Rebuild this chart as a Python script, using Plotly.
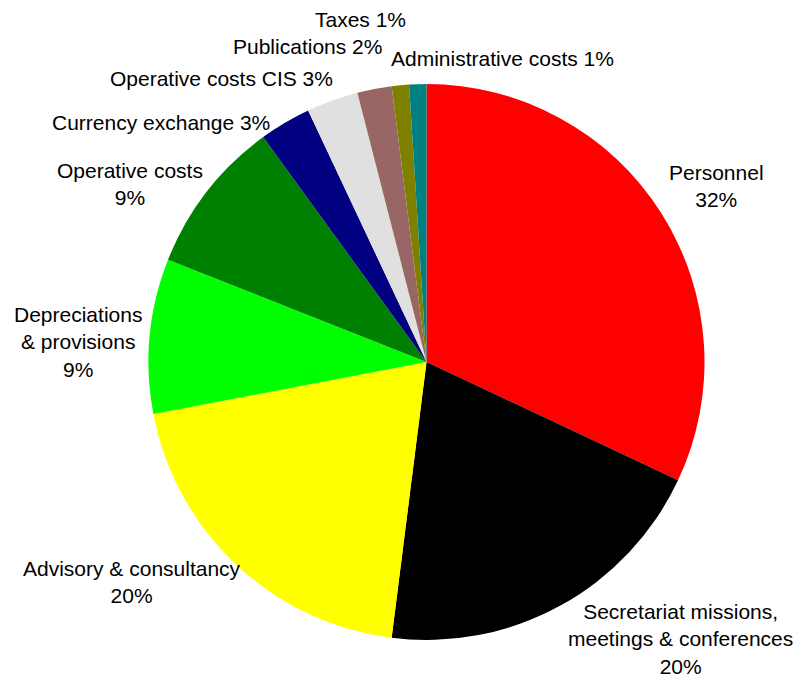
import plotly.graph_objects as go

# Budget breakdown, clockwise from 12 o'clock
categories = [
    "Personnel",
    "Secretariat missions,<br>meetings & conferences",
    "Advisory & consultancy",
    "Depreciations<br>& provisions",
    "Operative costs",
    "Currency exchange",
    "Operative costs CIS",
    "Publications",
    "Taxes",
    "Administrative costs",
]
shares = [32, 20, 20, 9, 9, 3, 3, 2, 1, 1]
colors = ["#FF0000", "#000000", "#FFFF00", "#00FF00", "#008000",
          "#000080", "#E0E0E0", "#996666", "#808000", "#008080"]

# Label layout: (x px, y px, percentage on its own line?)
W, H = 798, 680
label_pos = [
    (716, 186, True),
    (680, 639, True),
    (132, 582, True),
    (78, 342, True),
    (130, 184, True),
    (161, 122, False),
    (221, 78, False),
    (307, 47, False),
    (360, 19, False),
    (502, 58, False),
]

fig = go.Figure(go.Pie(
    labels=categories,
    values=shares,
    marker=dict(colors=colors, line=dict(width=0)),
    sort=False,
    direction="clockwise",
    rotation=0,
    textinfo="none",
    hoverinfo="label+percent",
    domain=dict(x=[148 / W, 705 / W], y=[40 / H, 596 / H]),
    showlegend=False,
))

total = sum(shares)
annotations = []
for name, v, (px, py, stacked) in zip(categories, shares, label_pos):
    pct = f"{round(100 * v / total)}%"
    text = f"{name}<br>{pct}" if stacked else f"{name} {pct}"
    annotations.append(dict(
        x=px / W, y=1 - py / H, xref="paper", yref="paper",
        text=text, showarrow=False, xanchor="center", yanchor="middle",
        align="center",
        font=dict(family="Liberation Sans, Arial, sans-serif", size=21, color="#000000"),
    ))

fig.update_layout(
    width=W, height=H,
    margin=dict(l=0, r=0, t=0, b=0),
    paper_bgcolor="white",
    plot_bgcolor="white",
    annotations=annotations,
)

fig.write_html("out.html")
